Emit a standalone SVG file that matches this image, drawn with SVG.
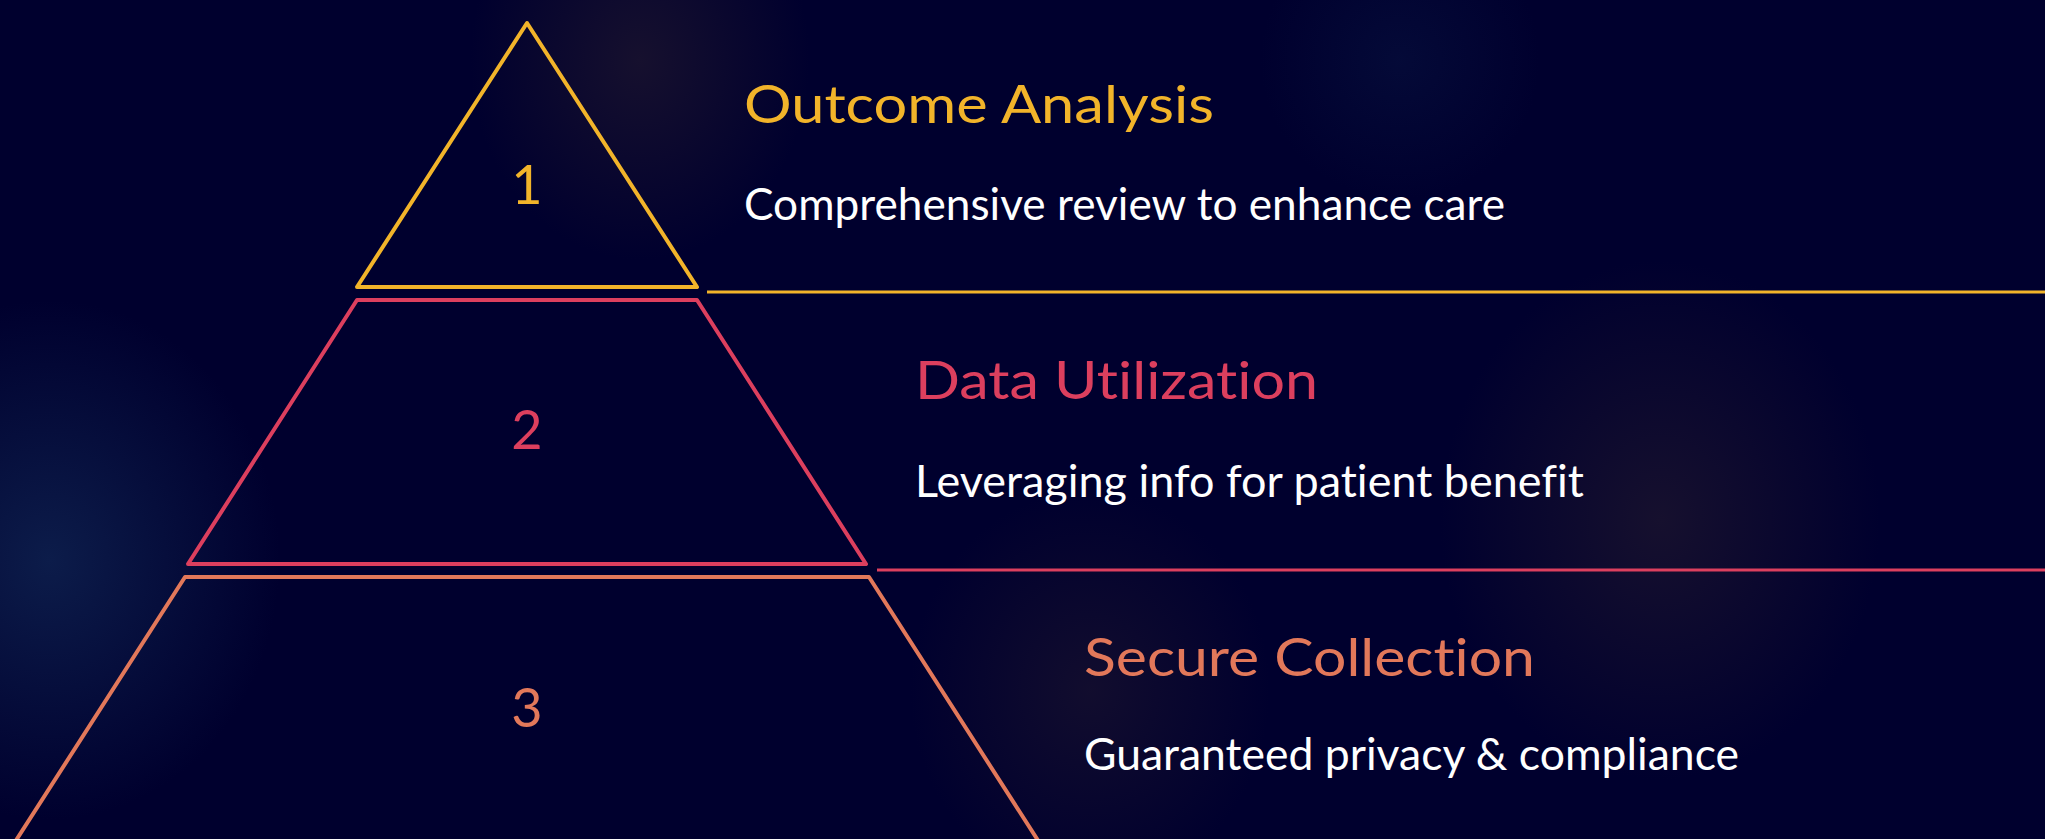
<svg xmlns="http://www.w3.org/2000/svg" width="2045" height="839" viewBox="0 0 2045 839">
  <defs>
    <radialGradient id="gBlue" cx="0.5" cy="0.5" r="0.5">
      <stop offset="0" stop-color="#0c1c4a" stop-opacity="1"/>
      <stop offset="1" stop-color="#0c1c4a" stop-opacity="0"/>
    </radialGradient>
    <radialGradient id="gPurple" cx="0.5" cy="0.5" r="0.5">
      <stop offset="0" stop-color="#16102e" stop-opacity="1"/>
      <stop offset="1" stop-color="#16102e" stop-opacity="0"/>
    </radialGradient>
    <style>
      .tier { fill: none; stroke-width: 4; stroke-linejoin: round; }
      .conn { stroke-width: 3; fill: none; }
      text { font-variant-ligatures: none; font-feature-settings: "liga" 0; }
      .num { font-family: Lato, "Open Sans", sans-serif; font-size: 54px; text-anchor: middle; }
      .title { font-family: Lato, "Open Sans", sans-serif; font-size: 53px; }
      .sub { font-family: Lato, "Open Sans", sans-serif; font-size: 44px; fill: #ffffff; }
    </style>
  </defs>
  <rect x="0" y="0" width="2045" height="839" fill="#00002E"/>
  <ellipse cx="50" cy="560" rx="230" ry="260" fill="url(#gBlue)"/>
  <ellipse cx="640" cy="60" rx="170" ry="200" fill="url(#gPurple)"/>
  <ellipse cx="1660" cy="520" rx="220" ry="260" fill="url(#gPurple)"/>
  <ellipse cx="1090" cy="690" rx="180" ry="200" fill="url(#gPurple)" opacity="0.8"/>
  <ellipse cx="1400" cy="60" rx="140" ry="140" fill="url(#gBlue)" opacity="0.35"/>

  <g id="connectors">
    <line class="conn" x1="707" y1="292" x2="2045" y2="292" stroke="#F2B42A"/>
    <line class="conn" x1="877" y1="570" x2="2045" y2="570" stroke="#DC3F5E"/>
  </g>

  <g id="tier1">
    <polygon class="tier" points="527,23 697,287 357,287" stroke="#F2B42A"/>
    <text class="num" x="527" y="204" fill="#F2B42A">1</text>
    <text class="title" x="744" y="123" fill="#F2B42A" textLength="470" lengthAdjust="spacingAndGlyphs">Outcome Analysis</text>
    <text class="sub" x="744" y="220" textLength="761" lengthAdjust="spacingAndGlyphs">Comprehensive review to enhance care</text>
  </g>

  <g id="tier2">
    <polygon class="tier" points="357,300 697,300 866,564 188,564" stroke="#DC3F5E"/>
    <text class="num" x="527" y="449" fill="#DC3F5E">2</text>
    <text class="title" x="915" y="399" fill="#DC3F5E" textLength="403" lengthAdjust="spacingAndGlyphs">Data Utilization</text>
    <text class="sub" x="915" y="497" textLength="669" lengthAdjust="spacingAndGlyphs">Leveraging info for patient benefit</text>
  </g>

  <g id="tier3">
    <polygon class="tier" points="185,577 869,577 1039,842 15,842" stroke="#E2785A"/>
    <text class="num" x="527" y="727" fill="#E2785A">3</text>
    <text class="title" x="1084" y="676" fill="#E2785A" textLength="451" lengthAdjust="spacingAndGlyphs">Secure Collection</text>
    <text class="sub" x="1084" y="770" textLength="655" lengthAdjust="spacingAndGlyphs">Guaranteed privacy &amp; compliance</text>
  </g>
</svg>
